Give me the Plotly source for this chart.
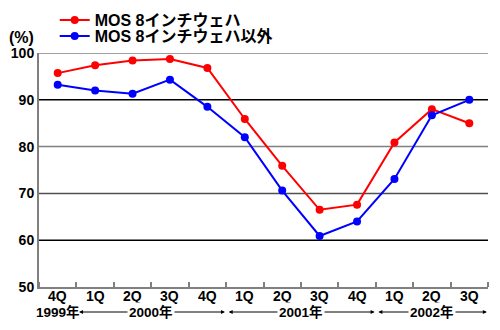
import plotly.graph_objects as go

# Quarterly utilisation data (%)
quarters = ["4Q", "1Q", "2Q", "3Q", "4Q", "1Q", "2Q", "3Q", "4Q", "1Q", "2Q", "3Q"]
wafer_8inch = [95.7, 97.4, 98.4, 98.7, 96.8, 85.9, 75.9, 66.5, 67.6, 80.9, 88.0, 85.0]
wafer_other = [93.2, 92.0, 91.3, 94.3, 88.5, 82.0, 70.6, 60.9, 64.0, 73.1, 86.7, 90.0]

series_names = ["MOS 8インチウェハ", "MOS 8インチウェハ以外"]
series_colors = ["#ff0000", "#0000ff"]

# Year groups: (label, first index, last index)
year_groups = [("2000年", 1, 4), ("2001年", 5, 8), ("2002年", 9, 11)]
first_year_label = "1999年"

y_ticks = [50, 60, 70, 80, 90, 100]
grid_colors = {60: "#000000", 70: "#505050", 80: "#808080", 90: "#000000", 100: "#808080"}

FONT = "Liberation Sans, Arial, Noto Sans CJK JP, sans-serif"
x = list(range(len(quarters)))

PLOT_TOP, PLOT_BOTTOM = 53, 287


def paper_y(px):
    return (PLOT_BOTTOM - px) / (PLOT_BOTTOM - PLOT_TOP)


fig = go.Figure()
legend_ids = ["legend", "legend2"]
for name, vals, col, lg in zip(series_names, [wafer_8inch, wafer_other], series_colors, legend_ids):
    fig.add_trace(go.Scatter(
        x=x, y=vals, name=f"<b>{name}</b>", mode="lines+markers",
        line=dict(color=col, width=2),
        marker=dict(color=col, size=8),
        cliponaxis=False, legend=lg,
    ))

# Horizontal grid lines
for v, c in grid_colors.items():
    fig.add_shape(type="line", xref="paper", yref="y", x0=0, x1=1, y0=v, y1=v,
                  line=dict(color=c, width=1.5), layer="below")

annotations = []
# Quarter labels under each category
for xi, q in zip(x, quarters):
    annotations.append(dict(x=xi, y=0, xref="x", yref="paper", text=f"<b>{q}</b>",
                            showarrow=False, yshift=-9, yanchor="middle",
                            font=dict(family=FONT, size=14, color="#000")))
# Year row with double-headed arrows
annotations.append(dict(x=0, y=0, xref="x", yref="paper", text=f"<b>{first_year_label}</b>",
                        showarrow=False, yshift=-25, yanchor="middle",
                        font=dict(family=FONT, size=13.5, color="#000")))
for label, i0, i1 in year_groups:
    left = i0 - 0.5 + 0.03
    right = i1 + 0.5 - 0.03
    annotations.append(dict(x=right, y=0, xref="x", yref="paper",
                            ax=left, ay=0, axref="x", ayref="pixel",
                            text="", showarrow=True, arrowside="end+start",
                            arrowhead=2, arrowsize=0.8, arrowwidth=1,
                            arrowcolor="#000", yshift=-25))
for label, i0, i1 in year_groups:
    annotations.append(dict(x=(i0 + i1) / 2, y=0, xref="x", yref="paper",
                            text=f"<b>{label}</b>",
                            showarrow=False, yshift=-25, yanchor="middle",
                            bgcolor="#ffffff", borderpad=1,
                            font=dict(family=FONT, size=13.5, color="#000")))
# Unit label
annotations.append(dict(x=-32 / 449, y=1, xref="paper", yref="paper", text="<b>(%)</b>",
                        showarrow=False, xanchor="left", yanchor="middle", yshift=16,
                        font=dict(family=FONT, size=16, color="#000")))

legend_common = dict(x=0.035, xanchor="left", yanchor="middle",
                     bgcolor="rgba(0,0,0,0)", borderwidth=0,
                     font=dict(family=FONT, size=16, color="#000"))

fig.update_layout(
    width=500, height=330,
    margin=dict(l=39, r=12, t=PLOT_TOP, b=330 - PLOT_BOTTOM, autoexpand=False),
    paper_bgcolor="#ffffff", plot_bgcolor="#ffffff",
    font=dict(family=FONT, size=13, color="#000000"),
    showlegend=True,
    legend=dict(y=paper_y(20), **legend_common),
    legend2=dict(y=paper_y(36), **legend_common),
    annotations=annotations,
    xaxis=dict(
        range=[-0.5, len(quarters) - 0.5],
        showticklabels=False,
        ticks="", showgrid=False, zeroline=False,
        showline=True, linecolor="#808080", linewidth=2,
        minor=dict(tick0=0.5, dtick=1, ticks="inside", ticklen=5,
                   tickcolor="#808080", tickwidth=1.5, showgrid=False),
        fixedrange=True,
    ),
    yaxis=dict(
        range=[50, 100], tickmode="array", tickvals=y_ticks,
        ticktext=[f"<b>{t}</b>" for t in y_ticks],
        ticks="", showgrid=False, zeroline=False,
        showline=True, linecolor="#808080", linewidth=2,
        tickfont=dict(family=FONT, size=14, color="#000"),
        fixedrange=True,
    ),
)

fig.write_html("out.html")
